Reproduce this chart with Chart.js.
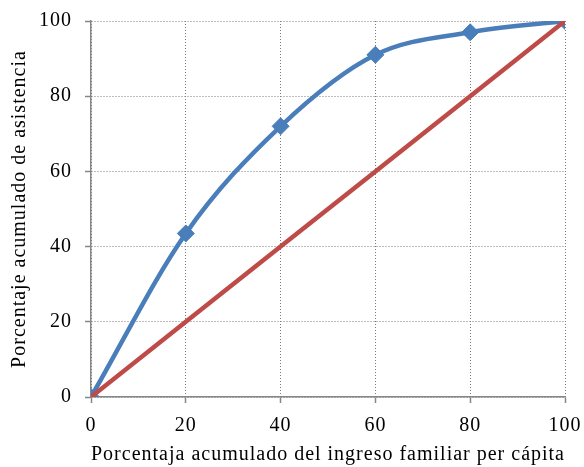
<!DOCTYPE html>
<html>
<head>
<meta charset="utf-8">
<script src="https://cdn.jsdelivr.net/npm/chart.js@4/dist/chart.umd.min.js"></script>
<style>
  html, body { margin: 0; padding: 0; background: #fff; }
  #wrap { width: 584px; height: 467px; }
</style>
</head>
<body>
<div id="wrap"><canvas id="c" width="584" height="467"></canvas></div>
<script>
// Cumulative share of family income (x) vs cumulative share of attendance (y)
const incomeShare = [0, 20, 40, 60, 80, 100];
const attendanceShare = [0, 43.5, 72, 91, 97, 100];
const equalityLine = [0, 20, 40, 60, 80, 100];
const xTitle = 'Porcentaja acumulado del ingreso familiar per cápita';
const yTitle = 'Porcentaje acumulado de asistencia';

const FONT = "'Liberation Serif', 'Times New Roman', serif";
const axisColor = '#868686';
const dotColor = '#7a7a7a';

const toPoints = (xs, ys) => xs.map((x, i) => ({ x: x, y: ys[i] }));

// Slightly open letter spacing for all canvas text
const spacing = {
  id: 'spacing',
  beforeDraw(chart) { chart.ctx.letterSpacing = '1px'; }
};

new Chart(document.getElementById('c'), {
  type: 'line',
  data: {
    datasets: [
      {
        label: 'Igualdad',
        data: toPoints(incomeShare, equalityLine),
        borderColor: '#BE4B48',
        borderWidth: 4.5,
        pointRadius: 0,
        tension: 0,
        order: 0
      },
      {
        label: 'Asistencia',
        data: toPoints(incomeShare, attendanceShare),
        borderColor: '#4A7EBB',
        backgroundColor: '#4A7EBB',
        borderWidth: 4.5,
        pointStyle: 'rectRot',
        pointRadius: 8.5,
        pointHoverRadius: 8.5,
        pointBorderWidth: 1,
        cubicInterpolationMode: 'monotone',
        order: 1
      }
    ]
  },
  options: {
    responsive: false,
    animation: false,
    events: [],
    layout: { padding: { top: 21, right: 19, left: 0, bottom: 0 } },
    plugins: { legend: { display: false }, tooltip: { enabled: false } },
    scales: {
      x: {
        type: 'linear',
        min: 0, max: 100,
        ticks: { stepSize: 20, color: '#000', font: { family: FONT, size: 20 }, padding: 11, maxRotation: 0 },
        grid: { color: dotColor, lineWidth: 1, drawTicks: true, tickLength: 6, tickColor: axisColor, tickWidth: 1.5, tickBorderDash: [] },
        border: { display: true, color: axisColor, width: 1.5, dash: [1, 2] },
        title: { display: true, text: xTitle, color: '#000', font: { family: FONT, size: 20 }, padding: { top: 0, bottom: 0 } },
        afterFit: (s) => { s.height = 70; s.paddingLeft = 0; s.paddingRight = 0; }
      },
      y: {
        min: 0, max: 100,
        ticks: { stepSize: 20, color: '#000', font: { family: FONT, size: 20 }, padding: 13 },
        grid: { color: dotColor, lineWidth: 1, drawTicks: true, tickLength: 6, tickColor: axisColor, tickWidth: 1.5, tickBorderDash: [] },
        border: { display: true, color: axisColor, width: 1.5, dash: [1, 2] },
        title: { display: true, text: yTitle, color: '#000', font: { family: FONT, size: 20 }, padding: { top: 8, bottom: 0 } },
        afterFit: (s) => { s.width = 91; s.paddingTop = 0; s.paddingBottom = 0; }
      }
    }
  },
  plugins: [spacing]
});
</script>
</body>
</html>
